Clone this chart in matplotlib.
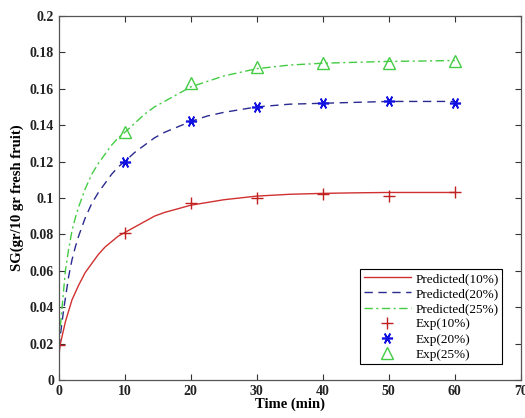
import numpy as np
import matplotlib
matplotlib.use('Agg')
import matplotlib.pyplot as plt

plt.rcParams['font.family'] = ['Liberation Serif', 'DejaVu Serif']

# predicted curves
t_pred = [0, 0.25, 0.5, 0.75, 1, 1.5, 2, 2.5, 3, 4, 5, 6, 7, 8, 9, 10, 11.5, 13, 14.5, 16,
          18, 20, 22.5, 25, 27.5, 30, 35, 40, 45, 50, 55, 60]
pred_10 = [0.015, 0.020, 0.024, 0.028, 0.032, 0.038, 0.044, 0.048, 0.052, 0.059, 0.064, 0.069,
           0.073, 0.076, 0.079, 0.081, 0.084, 0.087, 0.090, 0.092, 0.094, 0.096, 0.0975, 0.099,
           0.100, 0.101, 0.102, 0.1025, 0.1028, 0.103, 0.103, 0.103]
pred_20 = [0.018, 0.025, 0.032, 0.039, 0.045, 0.057, 0.066, 0.073, 0.079, 0.089, 0.097, 0.103,
           0.108, 0.113, 0.117, 0.120, 0.125, 0.129, 0.133, 0.136, 0.139, 0.142, 0.145, 0.147,
           0.1485, 0.150, 0.1515, 0.152, 0.1525, 0.153, 0.153, 0.153]
pred_25 = [0.020, 0.030, 0.040, 0.050, 0.060, 0.072, 0.082, 0.089, 0.095, 0.105, 0.113, 0.119,
           0.124, 0.129, 0.133, 0.136, 0.141, 0.146, 0.150, 0.153, 0.157, 0.161, 0.164, 0.167,
           0.169, 0.171, 0.173, 0.174, 0.1745, 0.175, 0.1752, 0.1755]

# experimental points
t_exp10 = [0, 10, 20, 30, 40, 50, 60]
exp_10 = [0.019, 0.081, 0.097, 0.100, 0.102, 0.101, 0.103]
t_exp = [10, 20, 30, 40, 50, 60]
exp_20 = [0.120, 0.142, 0.150, 0.152, 0.153, 0.152]
exp_25 = [0.136, 0.163, 0.172, 0.174, 0.174, 0.175]

my_dpi = 100
fig = plt.figure(figsize=(525/my_dpi, 418/my_dpi), dpi=my_dpi)
ax = fig.add_axes([0.112, 0.091, 0.880, 0.871])

ax.plot(t_pred, pred_10, '-', color='#d03030', lw=1.0, label='Predicted(10%)')
ax.plot(t_pred, pred_20, '--', color='#2a2a90', lw=1.0, dashes=(6, 4), label='Predicted(20%)')
ax.plot(t_pred, pred_25, '-.', color='#44cc44', lw=1.0, dashes=(6, 2.5, 1.5, 2.5), label='Predicted(25%)')
ax.plot(t_exp10, exp_10, '+', color='#c02020', ms=9, mew=1.0, label='Exp(10%)')
ax.plot(t_exp, exp_20, marker=(6, 2, 90), ls='none', color='#1010e0', ms=8, mew=1.2, label='Exp(20%)')
ax.plot(t_exp, exp_25, '^', color='#44cc44', mfc='none', ms=8, mew=1.0, label='Exp(25%)')

ax.set_xlim(0, 70)
ax.set_ylim(0, 0.2)
ax.set_xticks(range(0, 71, 10))
ax.set_yticks(np.arange(0, 0.201, 0.02))
ax.set_yticklabels(['0', '0.02', '0.04', '0.06', '0.08', '0.1', '0.12', '0.14', '0.16', '0.18', '0.2'])
ax.tick_params(direction='in', top=True, right=True, length=4, width=0.8, colors='#333333',
               labelsize=10, labelcolor='#222222')
for lab in ax.get_xticklabels() + ax.get_yticklabels():
    lab.set_fontweight('bold')
for sp in ax.spines.values():
    sp.set_color('#555555')
    sp.set_linewidth(0.9)

ax.set_xlabel('Time (min)', fontsize=10.5, fontweight='bold', labelpad=0)
ax.set_ylabel('SG(gr/10 gr fresh fruit)', fontsize=10.5, fontweight='bold', labelpad=4)

leg = ax.legend(loc='lower right', bbox_to_anchor=(0.959, 0.044), fontsize=9.5, frameon=True,
                fancybox=False, edgecolor='black', framealpha=1, borderpad=0.25,
                labelspacing=0.22, handlelength=3.6, handletextpad=0.3, borderaxespad=0)
leg.get_frame().set_linewidth(0.8)

plt.savefig('out.png', dpi=my_dpi)
